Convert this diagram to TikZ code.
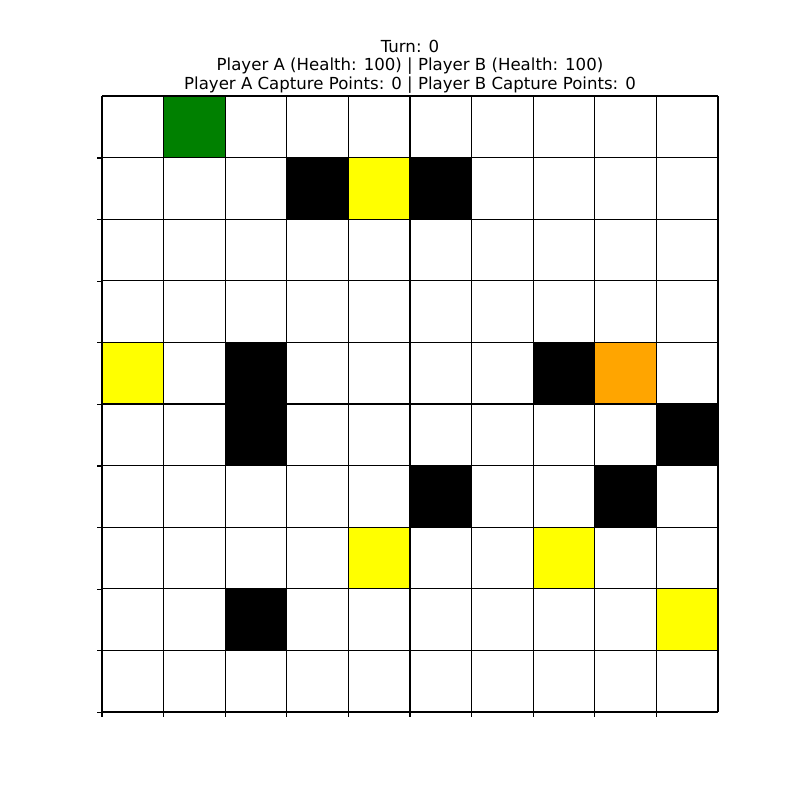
\documentclass[tikz,border=0pt]{standalone}
\usepackage{fontspec}
\setmainfont{DejaVu Sans}
\usetikzlibrary{positioning}
\definecolor{mplgreen}{RGB}{0,128,0}
\definecolor{mplorange}{RGB}{255,165,0}
\definecolor{mplyellow}{RGB}{255,255,0}
\tikzset{
  gridline/.style={draw=black,line width=0.95pt},
  ttl/.style={font=\fontsize{11.8}{14}\selectfont,inner sep=0pt,anchor=base},
  tickmark/.style={line width=0.8pt},
}

\begin{document}
\begin{tikzpicture}[x=0.25mm,y=-0.25mm]
  \useasboundingbox (0,0) rectangle (800,800);

  % title, three lines
  \node[ttl] (turn)    at (410,52) {Turn: 0};
  \node[ttl] (health)  at (410,70.5) {Player A (Health: 100) | Player B (Health: 100)};
  \node[ttl] (capture) at (410,89) {Player A Capture Points: 0 | Player B Capture Points: 0};

  % filled cells: column/row (row 0 at the top)/colour
  \foreach \c/\r/\col in {1/0/mplgreen,
      3/1/black, 4/1/mplyellow, 5/1/black,
      0/4/mplyellow, 2/4/black, 7/4/black, 8/4/mplorange,
      2/5/black, 9/5/black,
      5/6/black, 8/6/black,
      4/7/mplyellow, 7/7/mplyellow,
      2/8/black, 9/8/mplyellow}
    \fill[\col] (102+61.6*\c,96+61.6*\r) rectangle ++(61.6,61.6);

  % board lines
  \foreach \i in {0,...,10} {
    \draw[gridline] (102+61.6*\i,96) -- ++(0,616);
    \draw[gridline] (102,96+61.6*\i) -- ++(616,0);
  }

  % ticks on the left and bottom
  \foreach \i in {0,...,9} {
    \draw[tickmark] (102+61.6*\i,712) -- ++(0,4.9);
    \draw[tickmark] (102,158+61.6*\i) -- ++(-4.9,0);
  }
\end{tikzpicture}
\end{document}
